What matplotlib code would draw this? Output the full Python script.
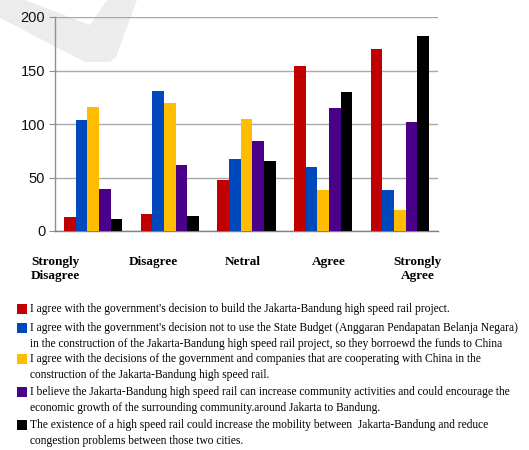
import matplotlib
matplotlib.use("Agg")
import matplotlib.pyplot as plt
import numpy as np
from matplotlib.patches import Polygon, Rectangle

# survey answers per statement, counted by response category
categories = ["Strongly\nDisagree", "Disagree", "Netral", "Agree", "Strongly\nAgree"]
build_project = [13, 16, 48, 154, 170]
no_state_budget = [104, 131, 67, 60, 38]
cooperate_china = [116, 120, 105, 38, 20]
community_growth = [39, 62, 84, 115, 102]
mobility = [11, 14, 65, 130, 182]

statements = [
    "I agree with the government's decision to build the Jakarta-Bandung high speed rail project.",
    "I agree with the government's decision not to use the State Budget (Anggaran Pendapatan Belanja Negara)\n"
    "in the construction of the Jakarta-Bandung high speed rail project, so they borroewd the funds to China",
    "I agree with the decisions of the government and companies that are cooperating with China in the\n"
    "construction of the Jakarta-Bandung high speed rail.",
    "I believe the Jakarta-Bandung high speed rail can increase community activities and could encourage the\n"
    "economic growth of the surrounding community.around Jakarta to Bandung.",
    "The existence of a high speed rail could increase the mobility between  Jakarta-Bandung and reduce\n"
    "congestion problems between those two cities.",
]
y_ticks = [0, 50, 100, 150, 200]

series = [build_project, no_state_budget, cooperate_china, community_growth, mobility]
colors = ["#C00000", "#0049BD", "#FFBC00", "#4A0088", "#000000"]

W, H = 529, 450
fig = plt.figure(figsize=(W / 100, H / 100), dpi=100)


def fx(px):
    return px / W


def fy(py):
    return 1 - py / H


# faint watermark swoosh behind the chart
mark = [(0, 0), (25, 0), (90, 25), (107, 0), (137, 0), (116, 57), (110, 62), (85, 62), (0, 18)]
fig.add_artist(Polygon([(fx(x), fy(y)) for x, y in mark], closed=True,
                       transform=fig.transFigure, facecolor="#ececec", edgecolor="none", zorder=0))

ax = fig.add_axes([fx(55), fy(231), fx(438) - fx(55), fy(17) - fy(231)])
ax.patch.set_alpha(0)

x = np.arange(len(categories)) + 0.5
bar_w = 0.152
for i, (vals, c) in enumerate(zip(series, colors)):
    ax.bar(x + (i - 2) * bar_w, vals, bar_w, color=c, edgecolor="none", zorder=3)

ax.set_xlim(0, len(categories))
ax.set_ylim(0, 200)
ax.set_yticks(y_ticks)
ax.set_yticklabels([str(t) for t in y_ticks], family="Liberation Sans", fontsize=10.5, color="#111111")
ax.yaxis.grid(True, color="#a8a8a8", linewidth=1.0, zorder=0)
ax.tick_params(axis="y", length=4, color="#909090", pad=3)

# category labels sit a little off the group centres
label_shift = [-0.49, -0.22, -0.05, 0.08, 0.23]
ax.set_xticks(x + np.array(label_shift))
ax.set_xticklabels(categories, family="Liberation Serif", fontweight="bold", fontsize=9.5,
                   linespacing=1.25)
ax.get_xticklabels()[0].set_multialignment("left")
ax.tick_params(axis="x", length=0, pad=18)

for side in ["top", "right"]:
    ax.spines[side].set_visible(False)
ax.spines["left"].set_color("#909090")
ax.spines["bottom"].set_color("#808080")
ax.spines["left"].set_linewidth(1.0)
ax.spines["bottom"].set_linewidth(1.0)

# hand-built legend: square marker next to the first line of each statement
line_y = [309, 328, 359, 392, 425]
line_gap = 16
for text, c, y0 in zip(statements, colors, line_y):
    fig.add_artist(Rectangle((fx(17), fy(y0 + 5)), fx(10), fy(0) - fy(10),
                             transform=fig.transFigure, facecolor=c, edgecolor="none"))
    for k, line in enumerate(text.split("\n")):
        fig.text(fx(30), fy(y0 + k * line_gap), line, family="Liberation Serif",
                 fontsize=8.3, va="center", ha="left")

fig.savefig("out.png", dpi=100)
